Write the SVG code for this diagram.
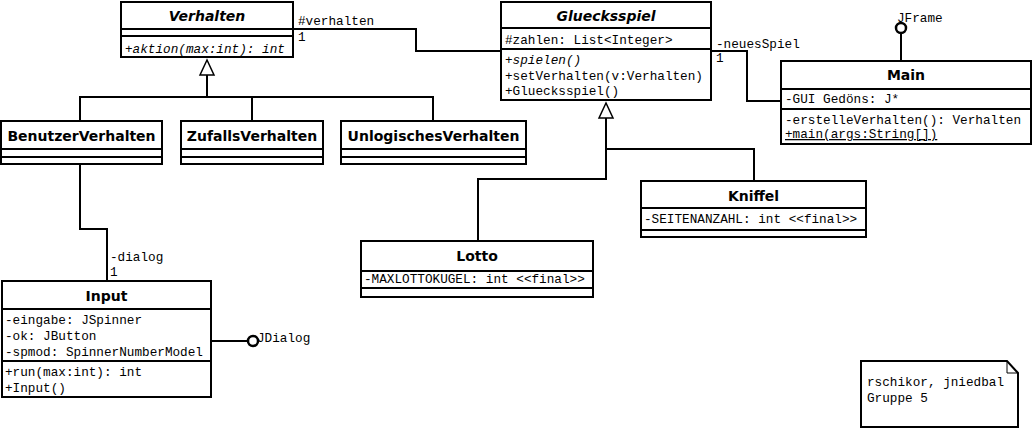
<svg xmlns="http://www.w3.org/2000/svg" width="1032" height="430" viewBox="0 0 1032 430">
<style>
.box{fill:#fff;stroke:#000;stroke-width:2}
.sep{stroke:#000;stroke-width:2}
.ln{fill:none;stroke:#000;stroke-width:2}
.t{font-family:"DejaVu Sans",Verdana,sans-serif;font-weight:bold;font-size:14px;text-anchor:middle;fill:#000}
.ti{font-style:italic}
.m{font-family:"Liberation Mono","Courier New",monospace;font-size:12.7px;fill:#000}
.mi{font-style:italic}
.tri{fill:#fff;stroke:#000;stroke-width:1.5}
.lol{fill:#fff;stroke:#000;stroke-width:2.5}
</style>
<rect width="1032" height="430" fill="#fff"/>
<g id="connectors">
<path class="ln" d="M207,75 V97 M80,121 V97 H433 V121 M252,97 V121"/>
<polygon class="tri" points="207,60 200,75 214,75"/>
<path class="ln" d="M293,29 H416 V51 H501"/>
<text class="m" x="298" y="25">#verhalten</text>
<text class="m" x="298" y="41">1</text>
<path class="ln" d="M711,51 H747 V101 H781"/>
<text class="m" x="716" y="48">-neuesSpiel</text>
<text class="m" x="716" y="62">1</text>
<path class="ln" d="M80,164 V229 H107 V281"/>
<text class="m" x="110" y="261">-dialog</text>
<text class="m" x="110" y="276">1</text>
<path class="ln" d="M478,241 V179 H606 V118 M606,149 H754 V181"/>
<polygon class="tri" points="606,103 599,118 613,118"/>
<path class="ln" d="M211,341 H248"/>
<circle class="lol" cx="253" cy="341" r="5"/>
<text class="m" x="257" y="342">JDialog</text>
<path class="ln" d="M901,33 V61"/>
<circle class="lol" cx="901" cy="28" r="5"/>
<text class="m" x="897" y="22">JFrame</text>
</g>
<g id="Verhalten">
<rect class="box" x="121" y="2" width="172" height="55"/>
<line class="sep" x1="121" y1="29" x2="293" y2="29"/>
<line class="sep" x1="121" y1="36" x2="293" y2="36"/>
<text class="t ti" x="207" y="21">Verhalten</text>
<text class="m mi" x="125" y="53">+aktion(max:int): int</text>
</g>
<g id="Gluecksspiel">
<rect class="box" x="501" y="2" width="210" height="98"/>
<line class="sep" x1="501" y1="28" x2="711" y2="28"/>
<line class="sep" x1="501" y1="49" x2="711" y2="49"/>
<text class="t ti" x="606" y="21">Gluecksspiel</text>
<text class="m" x="505" y="44">#zahlen: List&lt;Integer&gt;</text>
<text class="m mi" x="505" y="64">+spielen()</text>
<text class="m" x="505" y="80">+setVerhalten(v:Verhalten)</text>
<text class="m" x="505" y="95">+Gluecksspiel()</text>
</g>
<g id="Main">
<rect class="box" x="781" y="61" width="250" height="83"/>
<line class="sep" x1="781" y1="89" x2="1031" y2="89"/>
<line class="sep" x1="781" y1="109" x2="1031" y2="109"/>
<text class="t" x="906" y="80">Main</text>
<text class="m" x="785" y="103">-GUI Gedöns: J*</text>
<text class="m" x="785" y="124">-erstelleVerhalten(): Verhalten</text>
<text class="m" x="785" y="138" text-decoration="underline">+main(args:String[])</text>
</g>
<g id="BenutzerVerhalten">
<rect class="box" x="1" y="121" width="161" height="43"/>
<line class="sep" x1="1" y1="149" x2="162" y2="149"/>
<line class="sep" x1="1" y1="157" x2="162" y2="157"/>
<text class="t" x="81.5" y="141">BenutzerVerhalten</text>
</g>
<g id="ZufallsVerhalten">
<rect class="box" x="181" y="121" width="142" height="43"/>
<line class="sep" x1="181" y1="149" x2="323" y2="149"/>
<line class="sep" x1="181" y1="157" x2="323" y2="157"/>
<text class="t" x="252" y="141">ZufallsVerhalten</text>
</g>
<g id="UnlogischesVerhalten">
<rect class="box" x="341" y="121" width="185" height="43"/>
<line class="sep" x1="341" y1="149" x2="526" y2="149"/>
<line class="sep" x1="341" y1="157" x2="526" y2="157"/>
<text class="t" x="433.5" y="141">UnlogischesVerhalten</text>
</g>
<g id="Kniffel">
<rect class="box" x="641" y="181" width="225" height="56"/>
<line class="sep" x1="641" y1="208" x2="866" y2="208"/>
<line class="sep" x1="641" y1="230" x2="866" y2="230"/>
<text class="t" x="753.5" y="201">Kniffel</text>
<text class="m" x="644" y="223">-SEITENANZAHL: int &lt;&lt;final&gt;&gt;</text>
</g>
<g id="Lotto">
<rect class="box" x="361" y="241" width="232" height="56"/>
<line class="sep" x1="361" y1="271" x2="593" y2="271"/>
<line class="sep" x1="361" y1="288" x2="593" y2="288"/>
<text class="t" x="477" y="261">Lotto</text>
<text class="m" x="364" y="283">-MAXLOTTOKUGEL: int &lt;&lt;final&gt;&gt;</text>
</g>
<g id="Input">
<rect class="box" x="2" y="281" width="209" height="116"/>
<line class="sep" x1="2" y1="309" x2="211" y2="309"/>
<line class="sep" x1="2" y1="361" x2="211" y2="361"/>
<text class="t" x="106.5" y="301">Input</text>
<text class="m" x="5" y="324">-eingabe: JSpinner</text>
<text class="m" x="5" y="340">-ok: JButton</text>
<text class="m" x="5" y="356">-spmod: SpinnerNumberModel</text>
<text class="m" x="5" y="376">+run(max:int): int</text>
<text class="m" x="5" y="392">+Input()</text>
</g>
<g id="Note">
<path d="M861,361 H1007 L1018,373 V427 H861 Z" fill="#fff" stroke="#000" stroke-width="2"/>
<path d="M1007,361 V373 H1018" fill="none" stroke="#000" stroke-width="1"/>
<text class="m" x="867" y="386">rschikor, jniedbal</text>
<text class="m" x="867" y="402">Gruppe 5</text>
</g>
</svg>
